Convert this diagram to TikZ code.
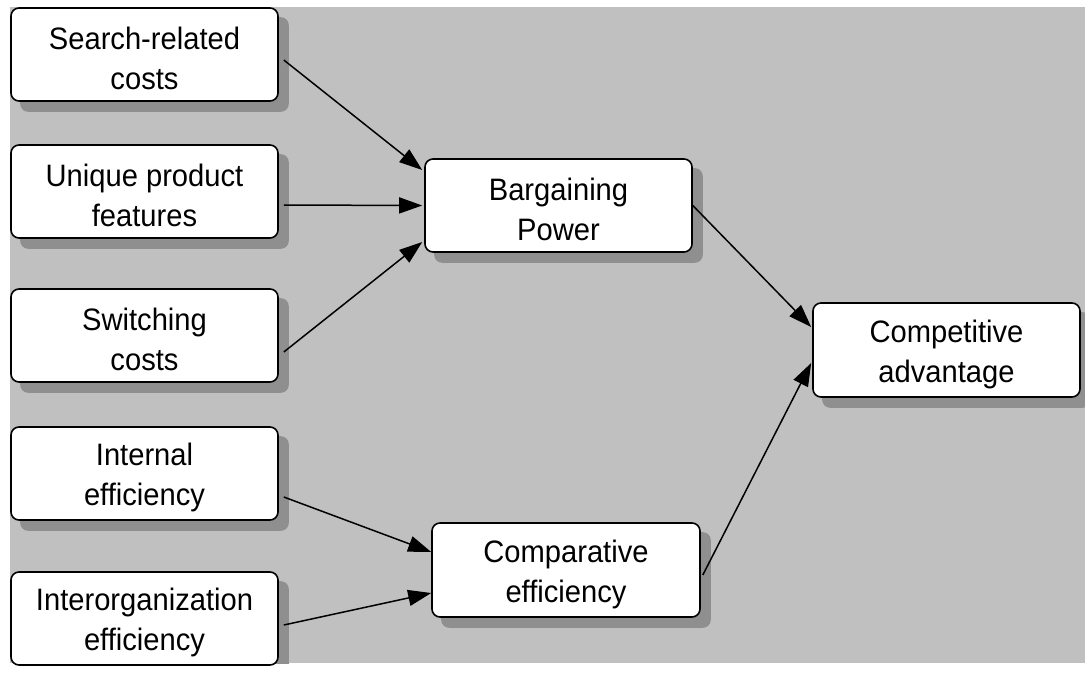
\documentclass[tikz,border=0pt]{standalone}
\usepackage{fontspec}
\setmainfont{Liberation Sans}[FakeStretch=0.94]
\usetikzlibrary{arrows.meta,calc,backgrounds}

\definecolor{canvasgray}{HTML}{C0C0C0}
\definecolor{shadowgray}{HTML}{8F8F8F}

\tikzset{
  box/.style={draw=black, line width=1.6pt, fill=white, rounded corners=8pt,
    minimum width=267pt, minimum height=93pt, inner sep=0pt, align=center,
    text height=71pt, font=\fontsize{31}{40}\selectfont},
  link/.style={draw=black, line width=1.5pt,
    -{Triangle[length=23pt,width=16pt]}},
}

\newcommand{\boxshadow}[1]{%
  \fill[shadowgray, rounded corners=8pt]
    ($(#1.north west)+(10,10)$) rectangle ($(#1.south east)+(10,10)$);}

\begin{document}
\begin{tikzpicture}[x=1pt, y=-1pt]
\useasboundingbox (0,0) rectangle (1085,673);

% cause boxes on the left
\node[box] (sr) at (144.5,54.5)  {Search-related\\costs};
\node[box] (up) at (144.5,191.5) {Unique product\\features};
\node[box] (sw) at (144.5,335.5) {Switching\\costs};
\node[box] (ie) at (144.5,473.5) {Internal\\efficiency};
\node[box] (io) at (144.5,618.5) {Interorganization\\efficiency};

% intermediate and final boxes
\node[box] (bp) at (558.5,205.5) {Bargaining\\Power};
\node[box, minimum width=268pt, minimum height=94pt] (ce) at (566,570) {Comparative\\efficiency};
\node[box, minimum height=94pt] (ca) at (946.5,350) {Competitive\\advantage};

% gray canvas with the box shadows
\begin{scope}[on background layer]
  \fill[canvasgray] (10,7) rectangle (1085,663);
  \begin{scope}
    \clip (10,7) rectangle (1085,663);
    \foreach \n in {sr,up,sw,ie,io,bp,ce,ca} {\boxshadow{\n}}
  \end{scope}
\end{scope}

% connectors
\draw[link] ($(sr.east)+(5,5.5)$)  -- ($(bp.west)+(-2,-35.5)$);
\draw[link] ($(up.east)+(5,13.5)$) -- ($(bp.west)+(-2,0)$);
\draw[link] ($(sw.east)+(5,16.5)$) -- ($(bp.west)+(-2,36.5)$);
\draw[link] ($(ie.east)+(5,23.5)$) -- ($(ce.west)+(0,-18)$);
\draw[link] ($(io.east)+(5,6.5)$)  -- ($(ce.west)+(0,23)$);
\draw[link] ($(bp.east)+(0,0)$)    -- ($(ca.west)+(-1,-23)$);
\draw[link] ($(ce.east)+(2,5)$)    -- ($(ca.west)+(-1,13)$);
\end{tikzpicture}
\end{document}
